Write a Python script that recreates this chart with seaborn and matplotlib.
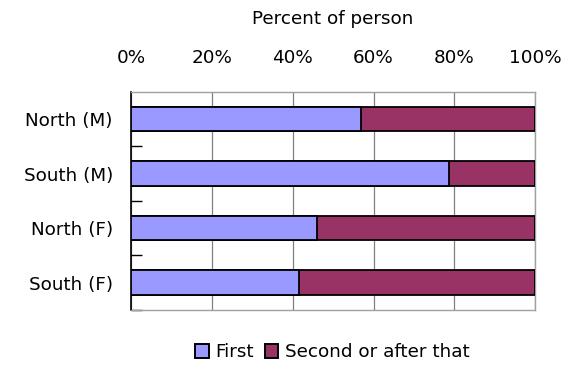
import matplotlib
matplotlib.use("Agg")
import matplotlib.pyplot as plt
import seaborn as sns
import pandas as pd
from matplotlib.patches import Patch
from matplotlib.ticker import FixedLocator, PercentFormatter

categories = ["North (M)", "South (M)", "North (F)", "South (F)"]
first = [56.9, 78.7, 46.0, 41.6]
second = [43.1, 21.3, 54.0, 58.4]
series_names = ["First", "Second or after that"]
colors = ["#9999FF", "#993366"]

sns.set_theme(style="white")
plt.rcParams['font.family'] = ['DejaVu Sans']
plt.rcParams['text.color'] = 'black'
FS = 13.2

df = pd.DataFrame({"cat": categories, "first": first, "second": second})
df["total"] = df["first"] + df["second"]

fig = plt.figure(figsize=(5.67, 3.65), dpi=100)
ax = fig.add_axes([0.231, 0.151, 0.713, 0.597])

sns.barplot(data=df, y="cat", x="total", color=colors[1], orient="h", saturation=1,
            width=0.45, edgecolor="black", linewidth=1.3, ax=ax, zorder=3)
sns.barplot(data=df, y="cat", x="first", color=colors[0], orient="h", saturation=1,
            width=0.45, edgecolor="black", linewidth=1.3, ax=ax, zorder=4)

ax.set_xlim(0, 100)
ax.set_ylim(3.5, -0.5)
ax.xaxis.tick_top()
ax.xaxis.set_label_position("top")
ax.set_xticks([0, 20, 40, 60, 80, 100])
ax.xaxis.set_major_formatter(PercentFormatter(decimals=0))
ax.set_xlabel("Percent of person", fontsize=FS, labelpad=18, color="black")
ax.set_ylabel("")
ax.tick_params(axis="x", length=0, pad=18, labelsize=FS, colors="black")
ax.tick_params(axis="y", which="major", length=0, pad=13, labelsize=FS, colors="black")
ax.yaxis.set_minor_locator(FixedLocator([0.5, 1.5, 2.5, 3.5]))
ax.tick_params(axis="y", which="minor", direction="in", length=8, width=1, color="black", left=True)

ax.grid(axis="x", color="#808080", linewidth=0.9, zorder=0)
ax.set_axisbelow(True)
for side in ["top", "right", "bottom"]:
    ax.spines[side].set_color("#A0A0A0")
    ax.spines[side].set_linewidth(1)
ax.spines["left"].set_color("black")
ax.spines["left"].set_linewidth(1.2)

handles = [Patch(facecolor=c, edgecolor="black", linewidth=1.4) for c in colors]
leg = fig.legend(handles, series_names, loc="center", bbox_to_anchor=(0.586, 0.035),
                 ncol=2, frameon=False, fontsize=FS, handlelength=0.75, handleheight=0.75,
                 handletextpad=0.35, columnspacing=0.6)
for t in leg.get_texts():
    t.set_color("black")

fig.savefig("out.png", dpi=100)
